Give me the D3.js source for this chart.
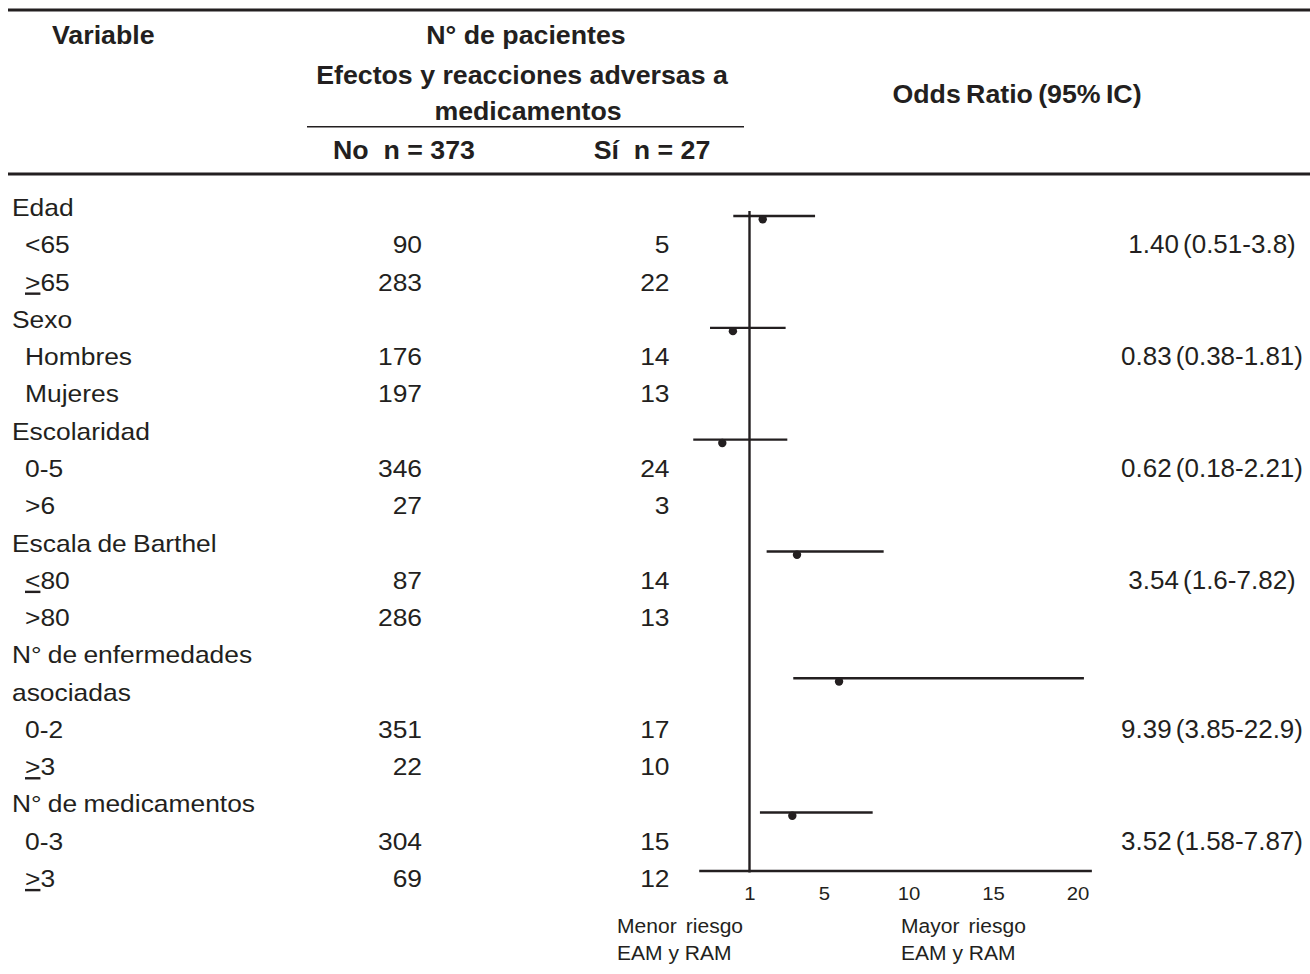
<!DOCTYPE html>
<html>
<head>
<meta charset="utf-8">
<script src="https://cdn.jsdelivr.net/npm/d3@7"></script>
<style>
  html, body { margin: 0; padding: 0; background: #fff; }
  svg { display: block; }
  text { font-family: "Liberation Sans", Arial, Helvetica, sans-serif; fill: #231f20; }
</style>
</head>
<body>
<svg id="chart" width="1310" height="974"></svg>
<script>
// ---------------- DATA ----------------
const groupLines = [["Edad"], ["Sexo"], ["Escolaridad"], ["Escala de Barthel"],
                    ["N° de enfermedades", "asociadas"], ["N° de medicamentos"]];
const levels   = [["<65", "≥65"], ["Hombres", "Mujeres"], ["0-5", ">6"],
                  ["≤80", ">80"], ["0-2", "≥3"], ["0-3", "≥3"]];
const countNo  = [[90, 283], [176, 197], [346, 27], [87, 286], [351, 22], [304, 69]];
const countSi  = [[5, 22], [14, 13], [24, 3], [14, 13], [17, 10], [15, 12]];
const orText   = ["1.40 (0.51-3.8)", "0.83 (0.38-1.81)", "0.62 (0.18-2.21)",
                  "3.54 (1.6-7.82)", "9.39 (3.85-22.9)", "3.52 (1.58-7.87)"];
// Interval ends and point as they are drawn in the figure, read against its axis
const plotLow  = [0.13, -1.12, -2.02, 1.92, 3.35, 1.56];
const plotEst  = [1.71, 0.11, -0.46, 3.55, 5.89, 3.30];
const plotHigh = [4.52, 2.94, 3.03, 8.53, 20.38, 7.88];
const tickValues = [1, 5, 10, 15, 20];
const axisExtent = [-1.7, 20.85];
const headVariable = "Variable";
const headPatients = ["N° de pacientes", "Efectos y reacciones adversas a", "medicamentos"];
const headNo = "No  n = 373";
const headSi = "Sí  n = 27";
const headOR = "Odds Ratio (95% IC)";
const noteLeft  = ["Menor riesgo", "EAM y RAM"];
const noteRight = ["Mayor riesgo", "EAM y RAM"];

// ---------------- LAYOUT ----------------
const W = 1310, H = 974;
const svg = d3.select("#chart");
const ink = "#231f20";

const rows = [];
const groupInfo = [];
groupLines.forEach((lines, g) => {
  const start = rows.length;
  lines.forEach(t => rows.push({ type: "group", text: t }));
  groupInfo.push({ start, nLines: lines.length, firstLevel: rows.length });
  levels[g].forEach((t, j) => rows.push({ type: "level", text: t, no: countNo[g][j], si: countSi[g][j] }));
});

const y = d3.scaleLinear().domain([0, rows.length - 1]).range([216, 887]); // text baselines
const x = d3.scaleLinear().domain([1, 5, 20]).range([749.5, 824, 1077.5]);
const axisY = 871;

function txt(parent, o) {
  const t = parent.append("text")
    .attr("transform", `translate(${o.x},${o.y}) scale(${o.sx || 1},1)`)
    .attr("text-anchor", o.anchor || "start")
    .style("font-size", o.size + "px")
    .style("font-weight", o.weight || "normal")
    .style("white-space", "pre");
  if (o.ws != null) t.style("word-spacing", o.ws + "px");
  return t;
}
function label(t, s) {
  if (s[0] === "≥" || s[0] === "≤") {
    t.append("tspan").text(s[0] === "≥" ? ">" : "<").style("text-decoration", "underline");
    t.append("tspan").text(s.slice(1));
  } else t.text(s);
}

// rules
const rules = svg.append("g").attr("stroke", ink);
rules.append("line").attr("x1", 8).attr("x2", W).attr("y1", 10).attr("y2", 10).attr("stroke-width", 2.8);
rules.append("line").attr("x1", 8).attr("x2", W).attr("y1", 174).attr("y2", 174).attr("stroke-width", 2.8);
rules.append("line").attr("x1", 307).attr("x2", 744).attr("y1", 126.7).attr("y2", 126.7).attr("stroke-width", 1.5);

// headers
const hd = svg.append("g");
const HB = { size: 25, weight: "bold", sx: 1.07 };
txt(hd, { ...HB, x: 52, y: 44 }).text(headVariable);
txt(hd, { ...HB, x: 526, y: 44, anchor: "middle" }).text(headPatients[0]);
txt(hd, { ...HB, x: 522, y: 84, anchor: "middle" }).text(headPatients[1]);
txt(hd, { ...HB, x: 528, y: 120, anchor: "middle" }).text(headPatients[2]);
txt(hd, { ...HB, x: 404, y: 159, anchor: "middle" }).text(headNo);
txt(hd, { ...HB, x: 652, y: 159, anchor: "middle" }).text(headSi);
txt(hd, { ...HB, x: 1017, y: 103, anchor: "middle", ws: -2 }).text(headOR);

// table body
const body = svg.append("g");
const BT = { size: 24, sx: 1.1 };
rows.forEach((r, i) => {
  const yy = y(i);
  if (r.type === "group") {
    txt(body, { ...BT, x: 12, y: yy, ws: -1 }).text(r.text);
  } else {
    label(txt(body, { ...BT, x: 25, y: yy }), r.text);
    txt(body, { ...BT, x: 422, y: yy, anchor: "end" }).text(r.no);
    txt(body, { ...BT, x: 669.5, y: yy, anchor: "end" }).text(r.si);
  }
});

// OR labels
groupInfo.forEach((gi, g) => {
  txt(body, { size: 25.5, sx: 1.02, x: 1212, y: y(gi.firstLevel), anchor: "middle", ws: -3 }).text(orText[g]);
});

// forest plot
const ciY = groupInfo.map(gi => y(gi.start + (gi.nLines - 1) * 0.4));
const plot = svg.append("g");

// reference line at OR = 1
plot.append("line")
  .attr("x1", x(1)).attr("x2", x(1))
  .attr("y1", ciY[0] - 5).attr("y2", axisY + 1.5)
  .attr("stroke", ink).attr("stroke-width", 2.4);

// axis
const axisG = plot.append("g").attr("transform", `translate(0,${axisY})`)
  .call(d3.axisBottom(x).tickValues(tickValues).tickSize(0).tickPadding(16));
axisG.select(".domain").remove();
axisG.selectAll(".tick text")
  .style("font-size", "19px")
  .style("font-family", '"Liberation Sans", Arial, sans-serif')
  .attr("fill", ink)
  .attr("transform", "scale(1.07,1)");
plot.append("line")
  .attr("x1", x(axisExtent[0])).attr("x2", x(axisExtent[1]))
  .attr("y1", axisY).attr("y2", axisY)
  .attr("stroke", ink).attr("stroke-width", 2.3);

// confidence intervals and point estimates
plot.selectAll("line.ci").data(d3.range(plotLow.length)).join("line")
  .attr("class", "ci")
  .attr("x1", i => x(plotLow[i])).attr("x2", i => x(plotHigh[i]))
  .attr("y1", i => ciY[i]).attr("y2", i => ciY[i])
  .attr("stroke", ink).attr("stroke-width", 2.4);
plot.selectAll("circle.est").data(d3.range(plotEst.length)).join("circle")
  .attr("class", "est")
  .attr("cx", i => x(plotEst[i])).attr("cy", i => ciY[i] + 3.3)
  .attr("r", 4.2).attr("fill", ink);

// notes under axis
const NT = { size: 19.5, sx: 1.08 };
txt(plot, { ...NT, x: 617, y: 933, ws: 3 }).text(noteLeft[0]);
txt(plot, { ...NT, x: 617, y: 960 }).text(noteLeft[1]);
txt(plot, { ...NT, x: 901, y: 933, ws: 3 }).text(noteRight[0]);
txt(plot, { ...NT, x: 901, y: 960 }).text(noteRight[1]);
</script>
</body>
</html>
